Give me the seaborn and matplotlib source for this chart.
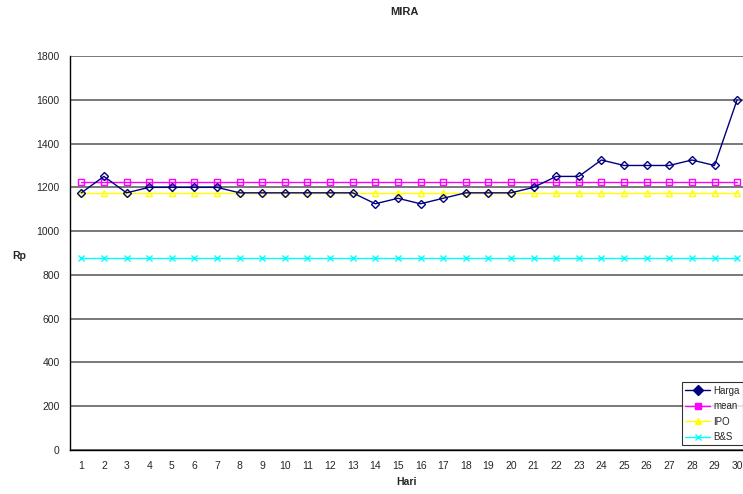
import pandas as pd
import matplotlib.pyplot as plt
import seaborn as sns
from matplotlib.lines import Line2D

# values
hari = list(range(1, 31))
harga = [1175, 1250, 1175, 1200, 1200, 1200, 1200, 1175, 1175, 1175,
         1175, 1175, 1175, 1125, 1150, 1125, 1150, 1175, 1175, 1175,
         1200, 1250, 1250, 1325, 1300, 1300, 1300, 1325, 1300, 1600]
mean = [1222.5] * 30
ipo = [1175] * 30
bs = [875] * 30

df = pd.DataFrame({'Hari': hari, 'Harga': harga, 'mean': mean, 'IPO': ipo, 'B&S': bs})

sns.set_style('white')
plt.rcParams['font.family'] = ['Liberation Sans', 'DejaVu Sans']

fig = plt.figure(figsize=(7.43, 4.94), dpi=100)
ax = fig.add_axes([0.0942, 0.089, 0.9058, 0.7976])

series = [
    ('Harga', '#000080', 'D', 4),
    ('mean', '#ff00ff', 's', 5),
    ('IPO', '#ffff00', '^', 5),
    ('B&S', '#00ffff', 'x', 5),
]
# draw back to front so Harga sits on top
for name, col, mk, ms in reversed(series):
    sns.lineplot(data=df, x='Hari', y=name, ax=ax, color=col, marker=mk,
                 markersize=ms, markerfacecolor='none', markeredgecolor=col,
                 markeredgewidth=1.0, linewidth=1.0)

ax.set_ylim(0, 1800)
ax.set_yticks(range(0, 1801, 200))
ax.set_xlim(0.5, 30.26)
ax.set_xticks(hari)
ax.set_xticks([h + 0.5 for h in range(0, 30)], minor=True)
ax.tick_params(axis='x', which='major', length=0, pad=8, labelsize=7.5)
ax.tick_params(axis='x', which='minor', length=4, width=0.8, direction='out', color='black')
ax.tick_params(axis='y', length=4, width=0.8, direction='out', color='black', labelsize=7.5)
ax.yaxis.grid(True, color='#555555', linewidth=1.1)
ax.set_axisbelow(True)

for s in ['top', 'right']:
    ax.spines[s].set_visible(False)
for s in ['left', 'bottom']:
    ax.spines[s].set_color('black')
    ax.spines[s].set_linewidth(1.0)

ax.set_xlabel('Hari', fontsize=7.5, fontweight='bold', labelpad=4)
ax.set_ylabel('Rp', fontsize=7.5, fontweight='bold', rotation=0, labelpad=22)
ax.yaxis.set_label_coords(-0.075, 0.48)
fig.suptitle('MIRA', x=0.545, y=0.985, fontsize=8, fontweight='bold')

handles = [Line2D([0], [0], color=c, marker=m, markersize=5, linewidth=1.0,
                  markerfacecolor=c, markeredgecolor=c) for _, c, m, _ in series]
leg = ax.legend(handles, [n for n, _, _, _ in series], loc='lower right',
                bbox_to_anchor=(1.0, 0.012), fontsize=7, frameon=True,
                fancybox=False, edgecolor='black', handlelength=2.6,
                handletextpad=0.3, borderpad=0.35, borderaxespad=0.0,
                labelspacing=0.55)
leg.get_frame().set_linewidth(0.8)

fig.savefig('out.png', dpi=100)
